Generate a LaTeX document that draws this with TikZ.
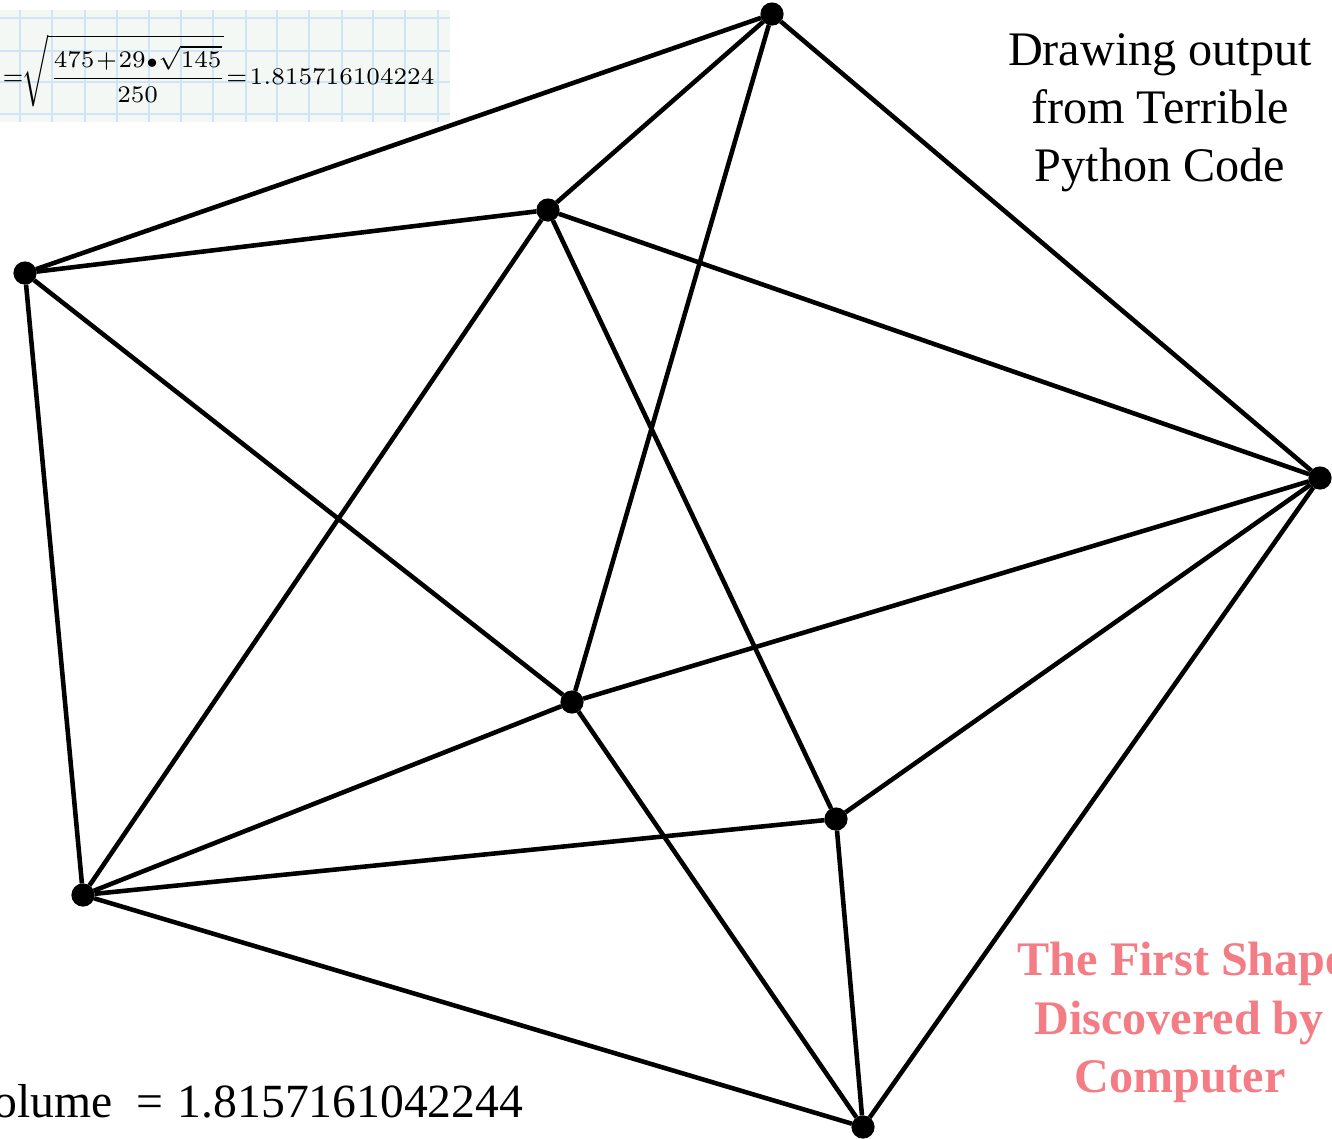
\documentclass[tikz,border=0pt]{standalone}
\usepackage{amsmath}
\usepackage{fontspec}
\setmainfont{Liberation Serif}
\usepackage{xcolor}
\definecolor{pinkColor}{HTML}{F47C84}
\definecolor{sheetColor}{HTML}{F4F8F5}
\definecolor{gridColor}{HTML}{CFE4F7}
\tikzset{
    vertex/.style={circle, fill=black, inner sep=0pt, outer sep=0pt, minimum size=6.6pt},
    edge/.style={line width=1.3pt, black},
    caption/.style={align=center, font=\fontsize{13.7}{16.5}\selectfont, inner sep=0pt},
    redcaption/.style={caption, text=pinkColor, font=\fontsize{13.7}{16.6}\selectfont\bfseries},
}
\begin{document}
\begin{tikzpicture}[x=0.01cm, y=-0.01cm]
    \clip (0,0) rectangle (1332,1138);
    % worksheet with the formula
    \fill[sheetColor] (0,10) rectangle (450,122);
    \foreach \x in {20,52,85,117,149,181,213,246,277,309,342,373,405,438}
        \draw[gridColor, line width=0.35pt] (\x,10) -- (\x,122);
    \foreach \y in {18,51,82,114}
        \draw[gridColor, line width=0.35pt] (0,\y) -- (450,\y);
    \node[inner sep=0pt, anchor=west, scale=0.97] (formula) at (2,71) {\fontsize{7}{9}\selectfont
        \medmuskip=1mu \thickmuskip=1.5mu
        \(\displaystyle =\!\sqrt{\mkern1mu\frac{475+29{\scriptstyle\bullet}\sqrt{145}}{250}\mkern-1mu}=1.815716104224\)};
    % vertices
    \foreach \name/\x/\y in {a/772/14, b/548/210, c/25/273, d/1320/478,
        e/572/702, f/836/819, g/83/895, h/863/1127}
        \node[vertex] (\name) at (\x,\y) {};
    % edges
    \foreach \p/\q in {a/c, a/b, a/e, a/d, b/c, b/g, b/f, b/d, c/e, c/g,
        d/e, d/f, d/h, e/g, e/h, f/g, f/h, g/h}
        \draw[edge] (\p) -- (\q);
    % labels
    \node[caption] (title) at (1160,113) {Drawing output\\from Terrible\\Python Code};
    \node[redcaption, anchor=north west] (shape) at (1017,941) {The First Shape};
    \node[redcaption] (found) at (1179,1023) {Discovered by};
    \node[redcaption] (comp) at (1180,1082) {Computer};
    \node[inner sep=0pt, anchor=base west, font=\fontsize{13.55}{16}\selectfont] (volume) at (-7,1117)
        {olume\hspace{0.5em}=\hspace{0.3em}1.8157161042244};
\end{tikzpicture}
\end{document}
